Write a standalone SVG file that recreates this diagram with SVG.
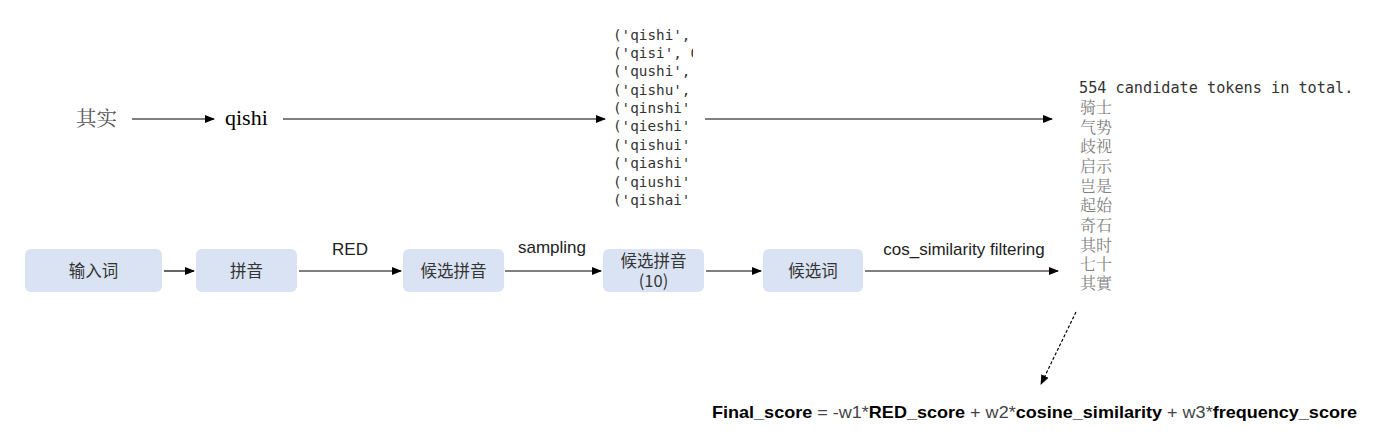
<svg xmlns="http://www.w3.org/2000/svg" width="1382" height="447" viewBox="0 0 1382 447">
<style>
.box{fill:#dae3f3;}
.bt{font-family:"Noto Sans CJK SC","Microsoft YaHei",sans-serif;font-size:16.5px;fill:#333;text-anchor:middle;}
.lbl{font-family:"Liberation Sans",Arial,sans-serif;font-size:17px;fill:#222;text-anchor:middle;}
.mono{font-family:"DejaVu Sans Mono","Liberation Mono",monospace;font-size:14.3px;fill:#333;}
.mono2{font-family:"DejaVu Sans Mono","Liberation Mono",monospace;font-size:15.2px;fill:#333;}
.cjk{font-family:"Noto Serif CJK SC","Noto Sans CJK SC",serif;font-size:16px;fill:#808080;}
.ln{stroke:#000;stroke-width:1.2;fill:none;}
</style>
<defs>
<marker id="ah" markerWidth="10" markerHeight="8" refX="9" refY="4" orient="auto" markerUnits="userSpaceOnUse">
<path d="M0,0 L10,4 L0,8 z" fill="#000"/>
</marker>
<clipPath id="clipL"><rect x="600" y="20" width="93" height="200"/></clipPath>
</defs>
<rect width="1382" height="447" fill="#fff"/>

<g id="top-word"><text x="76" y="126" font-family="'Noto Serif CJK SC','Noto Sans CJK SC',serif" font-size="20.5" fill="#555">其实</text></g>
<g id="top-pinyin"><text x="225" y="125" font-family="'Liberation Serif',serif" font-size="22" fill="#000">qishi</text></g>
<g id="top-list" clip-path="url(#clipL)">
<text class="mono" x="613" y="40">('qishi', 0.0)</text>
<text class="mono" x="613" y="58">('qisi', 0.1)</text>
<text class="mono" x="613" y="76">('qushi', 0.1)</text>
<text class="mono" x="613" y="95">('qishu', 0.1)</text>
<text class="mono" x="613" y="113">('qinshi', 0.1)</text>
<text class="mono" x="613" y="131">('qieshi', 0.1)</text>
<text class="mono" x="613" y="150">('qishui', 0.1)</text>
<text class="mono" x="613" y="168">('qiashi', 0.1)</text>
<text class="mono" x="613" y="187">('qiushi', 0.1)</text>
<text class="mono" x="613" y="205">('qishai', 0.1)</text>
</g>
<g id="top-candidates">
<text class="mono2" x="1079" y="93">554 candidate tokens in total.</text>
<text class="cjk" x="1080" y="113">骑士</text>
<text class="cjk" x="1080" y="133">气势</text>
<text class="cjk" x="1080" y="152">歧视</text>
<text class="cjk" x="1080" y="172">启示</text>
<text class="cjk" x="1080" y="192">岂是</text>
<text class="cjk" x="1080" y="211">起始</text>
<text class="cjk" x="1080" y="231">奇石</text>
<text class="cjk" x="1080" y="251">其时</text>
<text class="cjk" x="1080" y="270">七十</text>
<text class="cjk" x="1080" y="289">其實</text>
</g>

<g id="n1"><rect class="box" x="25" y="249" width="137" height="43" rx="6"/><text class="bt" x="93.5" y="277">输入词</text></g>
<g id="n2"><rect class="box" x="196" y="249" width="101" height="43" rx="6"/><text class="bt" x="246.5" y="277">拼音</text></g>
<g id="n3"><rect class="box" x="403" y="249" width="101" height="43" rx="6"/><text class="bt" x="453.5" y="277">候选拼音</text></g>
<g id="n4"><rect class="box" x="603" y="249" width="101" height="43" rx="6"/><text class="bt" x="653.5" y="267">候选拼音</text><text class="bt" x="653.5" y="287">(10)</text></g>
<g id="n5"><rect class="box" x="763" y="249" width="100" height="43" rx="6"/><text class="bt" x="813" y="277">候选词</text></g>

<g id="connectors">
<line class="ln" x1="132" y1="119" x2="214" y2="119" marker-end="url(#ah)"/>
<line class="ln" x1="283" y1="119" x2="605" y2="119" marker-end="url(#ah)"/>
<line class="ln" x1="705" y1="119" x2="1052" y2="119" marker-end="url(#ah)"/>
<line class="ln" x1="164" y1="271" x2="194" y2="271" marker-end="url(#ah)"/>
<line class="ln" x1="299" y1="271" x2="401" y2="271" marker-end="url(#ah)"/>
<line class="ln" x1="505" y1="271" x2="601" y2="271" marker-end="url(#ah)"/>
<line class="ln" x1="706" y1="271" x2="761" y2="271" marker-end="url(#ah)"/>
<line class="ln" x1="865" y1="271" x2="1058" y2="271" marker-end="url(#ah)"/>
<line class="ln" x1="1076" y1="312" x2="1041" y2="384" stroke-dasharray="3,2" marker-end="url(#ah)"/>
<text class="lbl" x="350" y="255">RED</text>
<text class="lbl" x="552" y="253">sampling</text>
<text class="lbl" x="964" y="255">cos_similarity filtering</text>
</g>

<g id="formula">
<text x="712" y="418" font-family="'Liberation Sans',Arial,sans-serif" font-size="16.5" fill="#000" textLength="645" lengthAdjust="spacingAndGlyphs"><tspan font-weight="bold">Final_score</tspan><tspan fill="#444"> = -w1*</tspan><tspan font-weight="bold">RED_score</tspan><tspan fill="#444"> + w2*</tspan><tspan font-weight="bold">cosine_similarity</tspan><tspan fill="#444"> + w3*</tspan><tspan font-weight="bold">frequency_score</tspan></text>
</g>
</svg>
